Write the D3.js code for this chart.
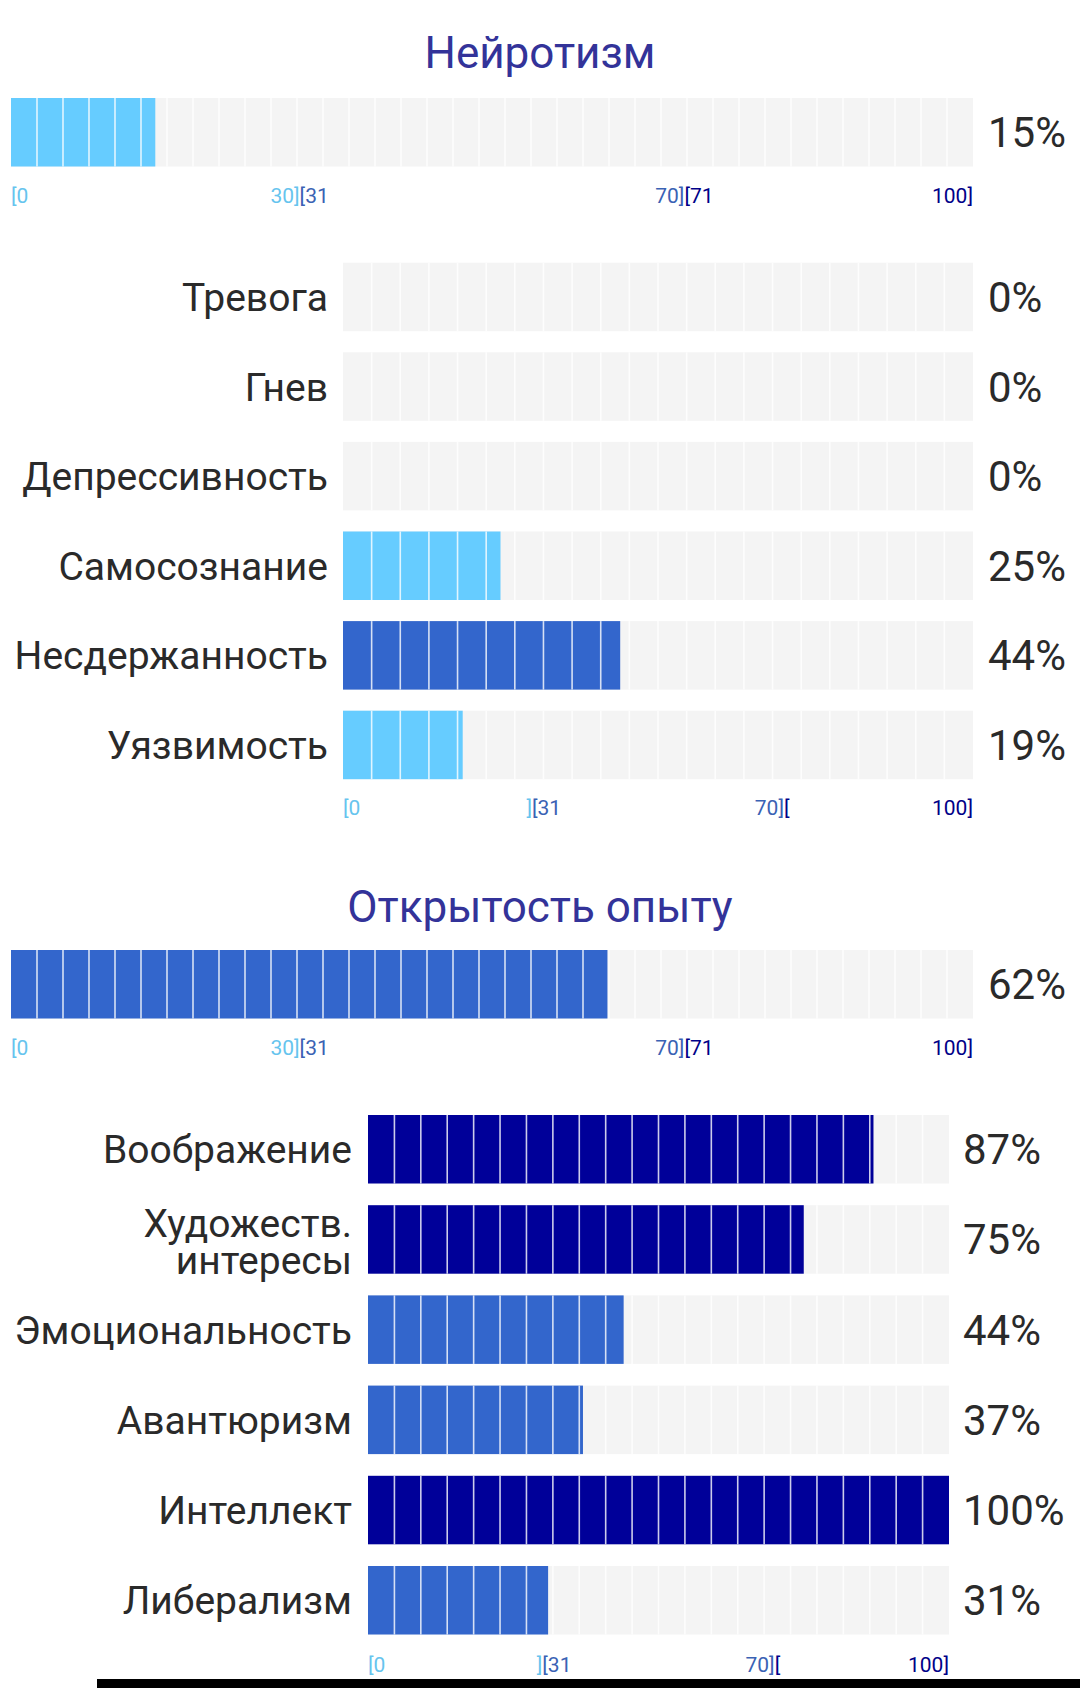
<!DOCTYPE html>
<html>
<head>
<meta charset="utf-8">
<script src="https://cdn.jsdelivr.net/npm/d3@7/dist/d3.min.js"></script>
<style>
  body { margin: 0; background: #fff; }
  svg { display: block; font-family: Roboto, "Noto Sans", sans-serif; }
</style>
</head>
<body>
<div id="chart"></div>
<script>
var svgWidth = 1080;
var svgHeight = 1688;

// data
var traitNames = ["Нейротизм", "Открытость опыту"];
var traitValues = [15, 62];

var neuroFacets = ["Тревога", "Гнев", "Депрессивность", "Самосознание", "Несдержанность", "Уязвимость"];
var neuroValues = [0, 0, 0, 25, 44, 19];

var openFacets = ["Воображение", "Художеств.\nинтересы", "Эмоциональность", "Авантюризм", "Интеллект", "Либерализм"];
var openValues = [87, 75, 44, 37, 100, 31];

// tick labels: [text left of the tick, text right of the tick]
var tickValues = [0, 30, 70, 100];
var mainTickText = [["", "[0"], ["30]", "[31"], ["70]", "[71"], ["100]", ""]];
var subTickText = [["", "[0"], ["]", "[31"], ["70]", "["], ["100]", ""]];

var bandColors = ["#66CCFF", "#3366CC", "#000099"];
var tickColors = ["#66C4EE", "#3A62B4", "#000088"];

function colorFor(v) {
  if (v <= 30) return bandColors[0];
  if (v <= 70) return bandColors[1];
  return bandColors[2];
}

var svg = d3.select("#chart")
  .append("svg")
  .attr("width", svgWidth)
  .attr("height", svgHeight);

svg.append("rect")
  .attr("width", svgWidth)
  .attr("height", svgHeight)
  .attr("fill", "#fff");

// one cell bar: grey background, value fill, white cell separators on top
function drawBar(g, xScale, y, h, value, cells) {
  var cellScale = d3.scaleLinear().domain([0, cells]).range(xScale.range());

  g.append("rect")
    .attr("x", xScale(0))
    .attr("y", y)
    .attr("width", xScale(100) - xScale(0))
    .attr("height", h)
    .attr("fill", "#F4F4F4");

  g.append("rect")
    .attr("x", xScale(0))
    .attr("y", y)
    .attr("width", xScale(value) - xScale(0))
    .attr("height", h)
    .attr("fill", colorFor(value));

  g.selectAll(".sep")
    .data(d3.range(1, cells))
    .enter()
    .append("line")
    .attr("class", "sep")
    .attr("x1", d => cellScale(d))
    .attr("x2", d => cellScale(d))
    .attr("y1", y)
    .attr("y2", y + h)
    .attr("stroke", "#fff")
    .attr("stroke-opacity", 0.8)
    .attr("stroke-width", 1.6);
}

function drawTicks(g, xScale, baseline, texts) {
  tickValues.forEach(function(t, i) {
    var pair = texts[i];
    if (pair[0]) {
      g.append("text")
        .attr("x", xScale(t))
        .attr("y", baseline)
        .attr("text-anchor", "end")
        .attr("font-size", 21)
        .attr("fill", tickColors[i - 1])
        .text(pair[0]);
    }
    if (pair[1]) {
      g.append("text")
        .attr("x", xScale(t))
        .attr("y", baseline)
        .attr("text-anchor", "start")
        .attr("font-size", 21)
        .attr("fill", tickColors[i])
        .text(pair[1]);
    }
  });
}

function drawPercent(g, x, yMid, value) {
  g.append("text")
    .attr("x", x)
    .attr("y", yMid + 15)
    .attr("font-size", 42)
    .attr("fill", "#2a2a2a")
    .text(value + "%");
}

// big trait bar with its title
function drawTrait(name, value, lay) {
  var g = svg.append("g");
  var x = d3.scaleLinear().domain([0, 100]).range([lay.x0, lay.x1]);

  g.append("text")
    .attr("x", svgWidth / 2)
    .attr("y", lay.titleY)
    .attr("text-anchor", "middle")
    .attr("font-size", 44)
    .attr("fill", "#333399")
    .text(name);

  drawBar(g, x, lay.barY, lay.barH, value, 37);
  drawPercent(g, lay.pctX, lay.barY + lay.barH / 2, value);
  drawTicks(g, x, lay.tickY, mainTickText);
}

// facet rows
function drawFacets(names, values, lay) {
  var g = svg.append("g");
  var x = d3.scaleLinear().domain([0, 100]).range([lay.x0, lay.x1]);
  var gap = lay.pitch - lay.barH;
  var y = d3.scaleBand()
    .domain(names)
    .range([lay.top - gap / 2, lay.top - gap / 2 + names.length * lay.pitch])
    .paddingInner(gap / lay.pitch)
    .paddingOuter(gap / lay.pitch / 2);

  names.forEach(function(n, i) {
    var row = g.append("g");
    var yTop = y(n);
    var mid = yTop + y.bandwidth() / 2;
    drawBar(row, x, yTop, y.bandwidth(), values[i], 22);
    drawPercent(row, lay.pctX, mid, values[i]);

    var lines = n.split("\n");
    var label = row.append("text")
      .attr("text-anchor", "end")
      .attr("font-size", 39)
      .attr("fill", "#2a2a2a");
    if (lines.length === 1) {
      label.attr("x", lay.labelX).attr("y", mid + 14).text(n);
    } else {
      lines.forEach(function(l, k) {
        label.append("tspan")
          .attr("x", lay.labelX)
          .attr("y", mid - 2 + k * 37)
          .text(l);
      });
    }
  });

  drawTicks(g, x, lay.tickY, subTickText);
}

drawTrait(traitNames[0], traitValues[0], {
  x0: 11, x1: 973, titleY: 68, barY: 98, barH: 68.5, pctX: 988, tickY: 203
});
drawFacets(neuroFacets, neuroValues, {
  x0: 343, x1: 973, top: 262.7, pitch: 89.6, barH: 68.5, labelX: 328, pctX: 988, tickY: 815
});
drawTrait(traitNames[1], traitValues[1], {
  x0: 11, x1: 973, titleY: 922, barY: 950, barH: 68.5, pctX: 988, tickY: 1055
});
drawFacets(openFacets, openValues, {
  x0: 368, x1: 949, top: 1115, pitch: 90.2, barH: 68.5, labelX: 352, pctX: 963, tickY: 1672
});

// black strip along the bottom edge
svg.append("rect")
  .attr("x", 97)
  .attr("y", 1679)
  .attr("width", svgWidth - 97)
  .attr("height", svgHeight - 1679)
  .attr("fill", "#000");
</script>
</body>
</html>
